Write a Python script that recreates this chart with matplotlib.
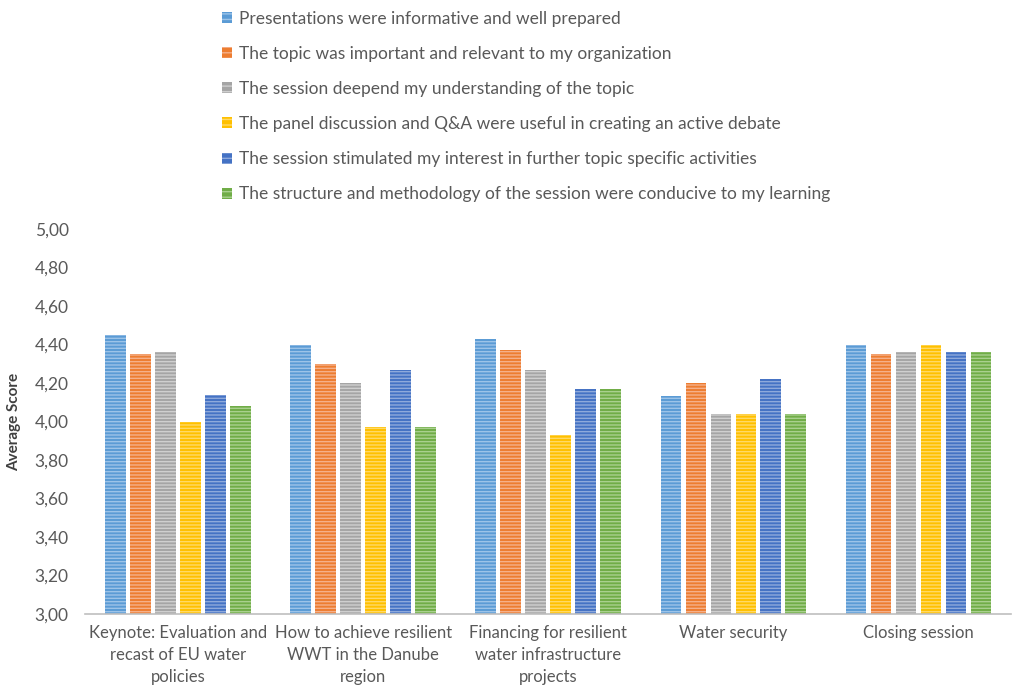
import matplotlib
matplotlib.use('Agg')
import matplotlib.pyplot as plt
import numpy as np
from matplotlib.patches import Patch
from matplotlib.ticker import FuncFormatter

plt.rcParams['font.family'] = ['Lato', 'DejaVu Sans']
plt.rcParams['hatch.linewidth'] = 1.0

sessions = ['Keynote: Evaluation and\nrecast of EU water\npolicies',
            'How to achieve resilient\nWWT in the Danube\nregion',
            'Financing for resilient\nwater infrastructure\nprojects',
            'Water security',
            'Closing session']

questions = ['Presentations were informative and well prepared',
             'The topic was important and relevant to my organization',
             'The session deepend my understanding of the topic',
             'The panel discussion and Q&A were useful in creating an active debate',
             'The session stimulated my interest in further topic specific activities',
             'The structure and methodology of the session were conducive to my learning']

informative = [4.45, 4.40, 4.43, 4.13, 4.40]
relevant    = [4.35, 4.30, 4.37, 4.20, 4.35]
deepened    = [4.36, 4.20, 4.27, 4.04, 4.36]
debate      = [4.00, 3.97, 3.93, 4.04, 4.40]
interest    = [4.14, 4.27, 4.17, 4.22, 4.36]
structure   = [4.08, 3.97, 4.17, 4.04, 4.36]

series = [informative, relevant, deepened, debate, interest, structure]
colors = ['#5B9BD5', '#ED7D31', '#A5A5A5', '#FFC000', '#4472C4', '#70AD47']
light = ['#9CC3E8', '#F5B08A', '#CFCFCF', '#FFD966', '#8EA9DB', '#A9D08E']

fig = plt.figure(figsize=(10.17, 6.95), dpi=100)
ax = fig.add_axes([0.084, 0.1165, 0.91, 0.554])

x = np.arange(len(sessions))
w = 0.135
for i, vals in enumerate(series):
    ax.bar(x + (i - 2.5) * w, np.array(vals) - 3, bottom=3, width=w * 0.82,
           color=colors[i], edgecolor=light[i], linewidth=0, hatch='-----')

ax.set_xlim(-0.5, 4.5)
ax.set_ylim(3, 5)
ax.set_yticks(np.arange(3, 5.01, 0.2))
ax.yaxis.set_major_formatter(FuncFormatter(lambda v, p: ('%.2f' % v).replace('.', ',')))
ax.set_xticks(x)
ax.set_xticklabels(sessions, fontsize=12, color='#595959', linespacing=1.45)
ax.tick_params(axis='y', length=0, labelsize=12.5, labelcolor='#595959', pad=12)
ax.tick_params(axis='x', length=0, pad=8)
for s in ['top', 'right', 'left']:
    ax.spines[s].set_visible(False)
ax.spines['bottom'].set_color('#BFBFBF')
ax.spines['bottom'].set_linewidth(1.2)
ax.set_ylabel('Average Score', fontsize=11, fontweight='bold', color='#404040', labelpad=10)

handles = [Patch(facecolor=colors[i], edgecolor=light[i], linewidth=0, hatch='---')
           for i in range(6)]
fig.legend(handles, questions, loc='upper left', bbox_to_anchor=(0.203, 1.007),
           frameon=False, fontsize=12.5, labelcolor='#595959', labelspacing=1.1,
           handlelength=0.6, handleheight=0.6, handletextpad=0.4)

fig.savefig('out.png', dpi=100)
